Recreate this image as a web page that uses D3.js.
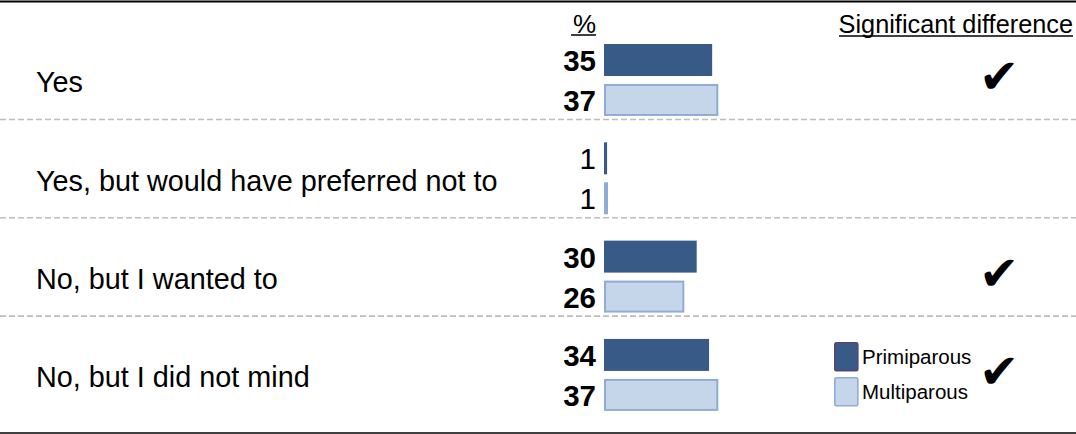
<!DOCTYPE html>
<html>
<head>
<meta charset="utf-8">
<script src="https://cdn.jsdelivr.net/npm/d3@7/dist/d3.min.js"></script>
<style>
  html, body { margin: 0; padding: 0; background: #fff; }
  svg { display: block; font-family: "Liberation Sans", Arial, sans-serif; }
</style>
</head>
<body>
<svg id="chart" width="1076" height="434"></svg>
<script>
const categories = ["Yes", "Yes, but would have preferred not to", "No, but I wanted to", "No, but I did not mind"];
const seriesNames = ["Primiparous", "Multiparous"];
const primiparous = [35, 1, 30, 34];
const multiparous = [37, 1, 26, 37];
const significant = [true, false, true, true];

const W = 1076, H = 434;
const svg = d3.select("#chart");

const colors = { Primiparous: "#375a87", Multiparous: "#c6d6ea" };
const strokes = { Primiparous: "#375a87", Multiparous: "#8fadd4" };

const x = d3.scaleLinear().domain([0, 100]).range([604, 604 + 309]);
const y = d3.scaleBand().domain(categories).range([44, 410.9]).paddingInner(0.268).paddingOuter(0);
const ySub = d3.scaleBand().domain(seriesNames).range([0, y.bandwidth()]).paddingInner(0.2);

const rows = categories.map((c, i) => ({
  cat: c, sig: significant[i],
  vals: [
    { s: "Primiparous", v: primiparous[i] },
    { s: "Multiparous", v: multiparous[i] }
  ]
}));

// top & bottom rules
svg.append("line").attr("x1", 0).attr("x2", W).attr("y1", 1.5).attr("y2", 1.5)
  .attr("stroke", "#000").attr("stroke-width", 2);
svg.append("line").attr("x1", 0).attr("x2", W).attr("y1", 433).attr("y2", 433)
  .attr("stroke", "#000").attr("stroke-width", 1.5);

// dashed separators
categories.slice(0, -1).forEach(c => {
  const yy = y(c) + y.bandwidth() + 3.5;
  svg.append("line").attr("x1", 0).attr("x2", W).attr("y1", yy).attr("y2", yy)
    .attr("stroke", "#bdbdbd").attr("stroke-width", 1.6).attr("stroke-dasharray", "6,3");
});

// headers
svg.append("text").attr("x", 596).attr("y", 32.5).attr("text-anchor", "end")
  .attr("font-size", 26).attr("fill", "#000").text("%");
svg.append("line").attr("x1", 571).attr("x2", 596).attr("y1", 35).attr("y2", 35)
  .attr("stroke", "#000").attr("stroke-width", 1.5);
svg.append("text").attr("x", 1073).attr("y", 33).attr("text-anchor", "end")
  .attr("font-size", 25.3).attr("fill", "#000").text("Significant difference");
svg.append("line").attr("x1", 839).attr("x2", 1073).attr("y1", 36).attr("y2", 36)
  .attr("stroke", "#000").attr("stroke-width", 1.5);

const g = svg.append("g");
const row = g.selectAll("g.row").data(rows).join("g").attr("class", "row")
  .attr("transform", d => `translate(0,${y(d.cat)})`);

row.append("text").attr("x", 36).attr("y", y.bandwidth() / 2 + 12.5)
  .attr("font-size", 28.8).attr("fill", "#000").text(d => d.cat);

row.selectAll("rect.bar").data(d => d.vals).join("rect").attr("class", "bar")
  .attr("x", d => x(0) + (d.s === "Multiparous" ? 1 : 0))
  .attr("y", d => ySub(d.s) + (d.s === "Multiparous" ? 1 : 0))
  .attr("width", d => Math.max(x(d.v) - x(0) - (d.s === "Multiparous" ? 2 : 0), 2))
  .attr("height", d => ySub.bandwidth() - (d.s === "Multiparous" ? 2 : 0))
  .attr("fill", d => colors[d.s])
  .attr("stroke", d => d.s === "Multiparous" ? strokes[d.s] : "none")
  .attr("stroke-width", 2);

row.each(function(d) {
  d3.select(this).selectAll("text.val").data(d.vals).join("text").attr("class", "val")
    .attr("x", 596).attr("y", v => ySub(v.s) + ySub.bandwidth() / 2 + 11)
    .attr("text-anchor", "end").attr("font-size", 29.5)
    .attr("font-weight", d.sig ? "bold" : "normal")
    .attr("fill", "#000").text(v => v.v);
});

row.filter(d => d.sig).append("text").attr("class", "check")
  .attr("x", 999).attr("y", y.bandwidth() / 2 + 13)
  .attr("text-anchor", "middle").attr("font-size", 48)
  .attr("font-family", "DejaVu Sans").attr("fill", "#000").text("\u2714");

// legend
const leg = svg.append("g").attr("transform", "translate(834,342)");
seriesNames.forEach((s, i) => {
  leg.append("rect").attr("x", 0.8).attr("y", i * 35 + 0.8).attr("width", 23).attr("height", 28)
    .attr("rx", 1.5).attr("fill", colors[s])
    .attr("stroke", s === "Primiparous" ? "#5a4479" : strokes[s]).attr("stroke-width", 1.6);
  leg.append("text").attr("x", 28).attr("y", i * 35 + 22).attr("font-size", 20.5)
    .attr("fill", "#000").text(s);
});
</script>
</body>
</html>
